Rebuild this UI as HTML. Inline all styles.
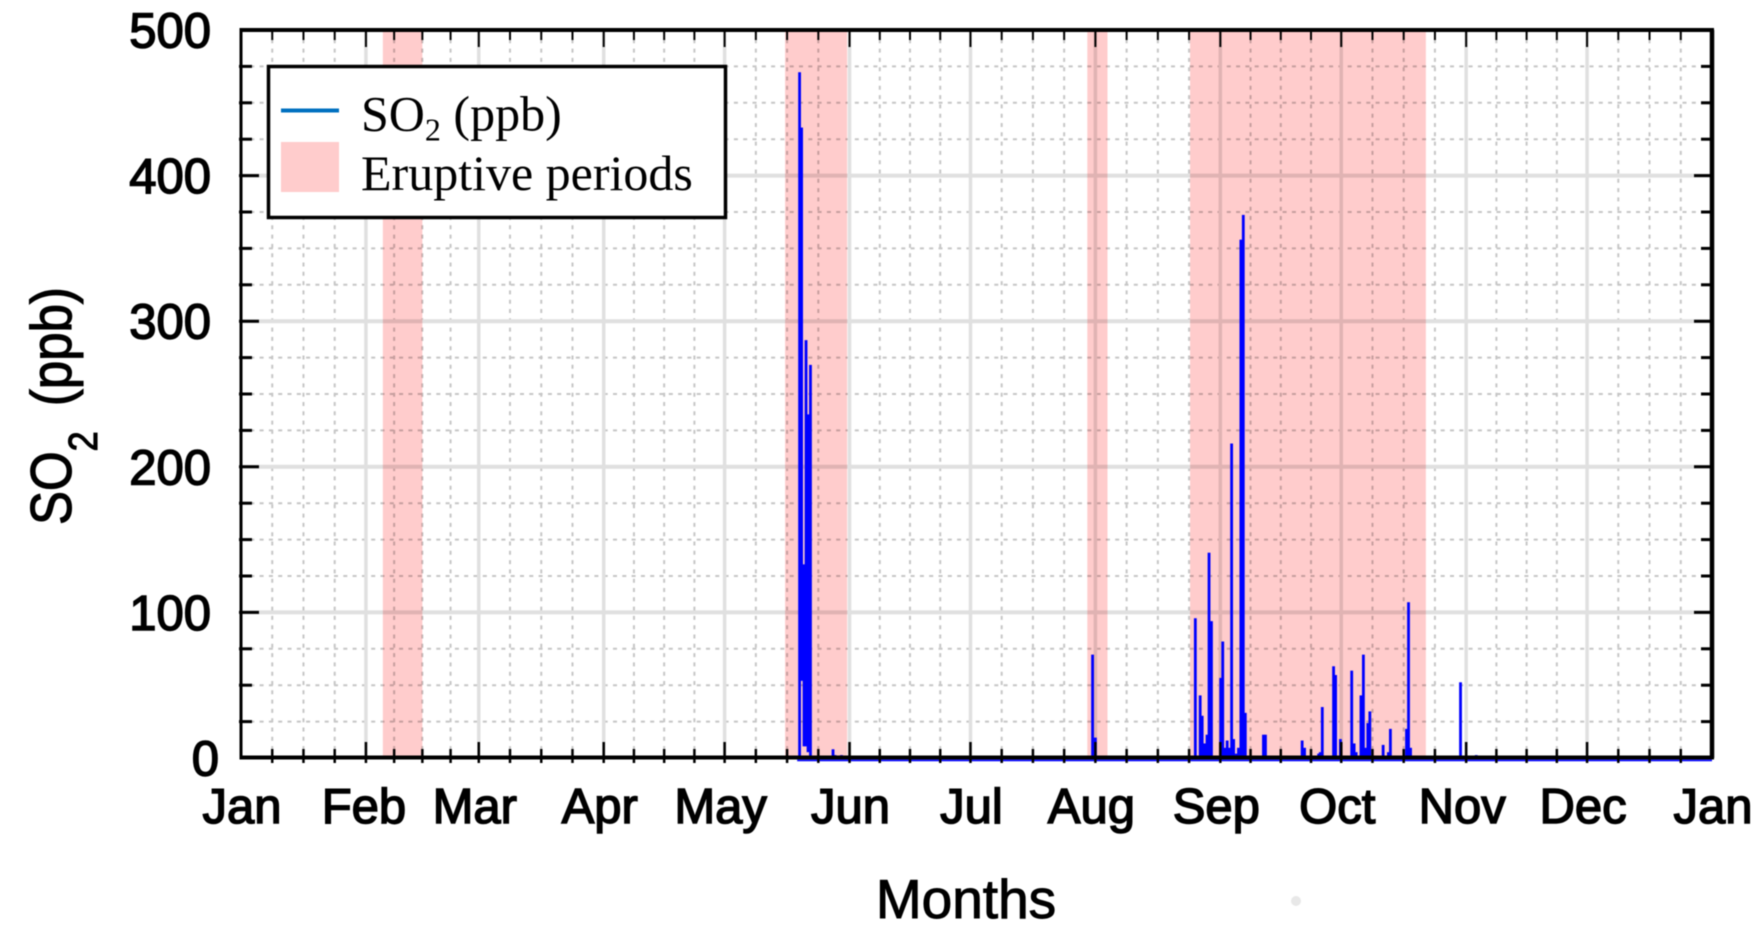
<!DOCTYPE html>
<html lang="en">
<head>
<meta charset="utf-8">
<title>SO2 (ppb) by month with eruptive periods</title>
<style>
  html, body { margin: 0; padding: 0; background: #fff; width: 1764px; height: 932px; overflow: hidden; }
  svg { display: block; filter: blur(0.55px); }
  .sans { font-family: "Liberation Sans", sans-serif; fill: #000; }
  .serif { font-family: "Liberation Serif", serif; fill: #000; }
  .tick-label { font-size: 49px; stroke: #000; stroke-width: 1.5px; }
</style>
</head>
<body>
<svg id="chart" xmlns="http://www.w3.org/2000/svg" width="1764" height="932" viewBox="0 0 1764 932">
  <rect x="0" y="0" width="1764" height="932" fill="#ffffff"/>
  <g id="grid-layer"></g>
  <g id="band-layer" style="mix-blend-mode:multiply"></g>
  <g id="series-layer"></g>
  <g id="axis-layer"></g>
  <g id="label-layer"></g>

  <g transform="translate(71,525) rotate(-90) scale(1,1.13)">
    <text class="sans" font-size="51" stroke="#000" stroke-width="1"><tspan>SO</tspan><tspan font-size="36" dx="0" dy="23">2</tspan><tspan dx="11" dy="-23"> (ppb)</tspan></text>
  </g>
  <text class="sans" x="966" y="918" font-size="55" text-anchor="middle" stroke="#000" stroke-width="1">Months</text>
  <circle cx="1296" cy="901" r="5" fill="#e8e8e8"/>

  <g>
    <rect x="268.5" y="66.5" width="457" height="151" fill="#ffffff" stroke="#000000" stroke-width="3.5"/>
    <line x1="281" y1="110.5" x2="339" y2="110.5" stroke="#0070c0" stroke-width="4"/>
    <rect x="281" y="142" width="58" height="50" fill="#ffcccc"/>
    <text class="serif" x="361" y="130.5" font-size="50">SO<tspan font-size="32" dy="10">2</tspan><tspan dy="-10"> (ppb)</tspan></text>
    <text class="serif" x="361" y="190" font-size="50">Eruptive periods</text>
  </g>
</svg>

<script>
// ---- chart data ----
const monthLabels = ["Jan","Feb","Mar","Apr","May","Jun","Jul","Aug","Sep","Oct","Nov","Dec","Jan"];
const monthLengths = [31,28,31,30,31,30,31,31,30,31,30,31];
const yTickValues = [0,100,200,300,400,500];
const eruptionStarts = [35.2,135,210,235.5];
const eruptionEnds = [45,150.4,215,294];
const spikeDays = [138.6,139.1,139.7,140.2,140.7,141.3,146.9,147.4,149,
  211.3,212,
  236.8,238,238.5,239.1,239.7,240.2,240.8,243.1,243.6,244.2,244.7,245.3,245.8,246.3,247,247.5,248.1,248.7,249.2,
  253.7,254.2,263.3,263.9,267.4,267.8,268.3,271.1,271.6,272.8,275.6,276.2,276.7,277.9,278.5,279,279.6,280.1,
  283.4,284.7,285.2,289.2,289.7,290.2,302.6,306.5];
const spikeHighs = [471,433,133,287,236,270,6,2,2,
  71,14,
  96,43,29,10,16,141,94,55,80,7,12,7,216,13,3,7,356,373,31,
  16,16,12,7,3,4,35,63,57,13,60,10,4,43,71,7,24,32,
  9,4,20,20,107,7,52,2];
const spikeLows = [0,53,8,8,4,1,0,0,0,
  0,0,
  0,0,0,0,0,0,0,0,0,0,0,0,0,0,0,0,0,0,0,
  0,0,0,0,0,0,0,0,0,0,0,0,0,0,0,0,0,0,
  0,0,0,0,0,0,0,0];
const zeroTraceStartDay = 138;
const zeroTraceEndDay = 365;

// ---- axis functions ----
const plotLeft = 241, plotRight = 1712, plotTop = 30, plotBottom = 758;
const totalDays = monthLengths.reduce(function (a, b) { return a + b; }, 0);
const yMax = yTickValues[yTickValues.length - 1];
function xScale(day) { return plotLeft + (day / totalDays) * (plotRight - plotLeft); }
function yScale(v) { return plotBottom - (v / yMax) * (plotBottom - plotTop); }

const NS = "http://www.w3.org/2000/svg";
function make(tag, parent, attrs) {
  const el = document.createElementNS(NS, tag);
  for (const k in attrs) el.setAttribute(k, attrs[k]);
  parent.appendChild(el);
  return el;
}
const gridLayer = document.getElementById("grid-layer");
const bandLayer = document.getElementById("band-layer");
const seriesLayer = document.getElementById("series-layer");
const axisLayer = document.getElementById("axis-layer");
const labelLayer = document.getElementById("label-layer");

// month boundaries (major) and quarter-month subdivisions (minor), in days
const monthStartDays = [0];
monthLengths.forEach(function (len, i) { monthStartDays.push(monthStartDays[i] + len); });
const minorDays = [];
monthLengths.forEach(function (len, i) {
  for (let q = 1; q < 4; q++) minorDays.push(monthStartDays[i] + len * q / 4);
});
const minorValues = [];
for (let i = 0; i < yTickValues.length - 1; i++) {
  const step = (yTickValues[i + 1] - yTickValues[i]) / 4;
  for (let q = 1; q < 4; q++) minorValues.push(yTickValues[i] + step * q);
}

// minor dotted grid
minorDays.forEach(function (d) {
  const line = make("line", gridLayer, { x1: xScale(d), x2: xScale(d), y1: plotTop, y2: plotBottom, stroke: "#c6c6c6", "stroke-width": 2, "stroke-dasharray": "4 5.3" });
  
  
});
minorValues.forEach(function (v) {
  const line = make("line", gridLayer, { x1: plotLeft, x2: plotRight, y1: yScale(v), y2: yScale(v), stroke: "#c6c6c6", "stroke-width": 2, "stroke-dasharray": "4 5.3" });
  
  
});
// major solid grid
monthStartDays.slice(1, -1).forEach(function (d) {
  const line = make("line", gridLayer, { x1: xScale(d), x2: xScale(d), y1: plotTop, y2: plotBottom, stroke: "#e0e0e0", "stroke-width": 3.5 });
  
  
});
yTickValues.slice(1, -1).forEach(function (v) {
  const line = make("line", gridLayer, { x1: plotLeft, x2: plotRight, y1: yScale(v), y2: yScale(v), stroke: "#e0e0e0", "stroke-width": 4 });
  
  
});

// eruptive bands
eruptionStarts.forEach(function (start, i) {
  const band = make("rect", bandLayer, { x: xScale(start), y: plotTop, width: xScale(eruptionEnds[i]) - xScale(start), height: plotBottom - plotTop, fill: "#ffcccc" });
  
  
});

// SO2 spikes
const spikeWidth = 2.8;
spikeDays.forEach(function (d, i) {
  const bar = make("rect", seriesLayer, { x: xScale(d) - spikeWidth / 2, y: yScale(spikeHighs[i]), width: spikeWidth, height: yScale(spikeLows[i]) - yScale(spikeHighs[i]), fill: "#0000ff" });
  
  
});

// axis frame
const frameParts = [
  { n: "top-axis-line", a: { x1: plotLeft - 1.5, x2: plotRight + 2, y1: plotTop, y2: plotTop, "stroke-width": 4 } },
  { n: "left-axis-line", a: { x1: plotLeft, x2: plotLeft, y1: plotTop, y2: plotBottom, "stroke-width": 3 } },
  { n: "right-axis-line", a: { x1: plotRight, x2: plotRight, y1: plotTop, y2: plotBottom, "stroke-width": 4.5 } },
  { n: "bottom-axis-line", a: { x1: plotLeft - 1.5, x2: plotRight + 2, y1: plotBottom - 0.5, y2: plotBottom - 0.5, "stroke-width": 4 } }
];
frameParts.forEach(function (p) {
  const line = make("line", axisLayer, Object.assign({ stroke: "#000" }, p.a));
  
  
});

// flat zero trace that shows just below the axis line
const zeroTrace = make("line", axisLayer, { x1: xScale(zeroTraceStartDay), x2: xScale(zeroTraceEndDay), y1: yScale(0) + 2.4, y2: yScale(0) + 2.4, stroke: "#0000ff", "stroke-width": 1.6 });



// x ticks
function drawXTick(d, isMajor) {
  const x = xScale(d);
  const len = isMajor ? 16 : 9;
  const top = make("line", axisLayer, { x1: x, x2: x, y1: plotTop, y2: plotTop + len + 1, stroke: "#000", "stroke-width": 2 });
  
  
  const bottom = make("line", axisLayer, { x1: x, x2: x, y1: plotBottom - len, y2: plotBottom + 5, stroke: "#000", "stroke-width": 2.5 });
  
  
}
monthStartDays.slice(1, -1).forEach(function (d) { drawXTick(d, true); });
minorDays.forEach(function (d) { drawXTick(d, false); });

// y ticks
function drawYTick(v, isMajor) {
  const y = yScale(v);
  const len = isMajor ? 18 : 11;
  const left = make("line", axisLayer, { x1: plotLeft - 2, x2: plotLeft + len, y1: y, y2: y, stroke: "#000", "stroke-width": 3 });
  
  
  const right = make("line", axisLayer, { x1: plotRight - len, x2: plotRight, y1: y, y2: y, stroke: "#000", "stroke-width": 3 });
  
  
}
yTickValues.slice(1, -1).forEach(function (v) { drawYTick(v, true); });
minorValues.forEach(function (v) { drawYTick(v, false); });

// tick labels
function monthLabelNudge(i) {
  if (i === 0 || i === monthLabels.length - 1 || i === 5 || i === 6) return 1;
  if (i === 1) return -2;
  return -4;
}
monthLabels.forEach(function (label, i) {
  const t = make("text", labelLayer, { x: xScale(monthStartDays[i]) + monthLabelNudge(i), y: 823, "text-anchor": "middle", class: "sans tick-label", style: "font-size:49px" });
  
  
  t.textContent = label;
});
yTickValues.forEach(function (v) {
  const t = make("text", labelLayer, { x: v === 0 ? 219 : 211, y: yScale(v) + 17.5, "text-anchor": "end", class: "sans tick-label" });
  
  
  t.textContent = String(v);
});
</script>
</body>
</html>
